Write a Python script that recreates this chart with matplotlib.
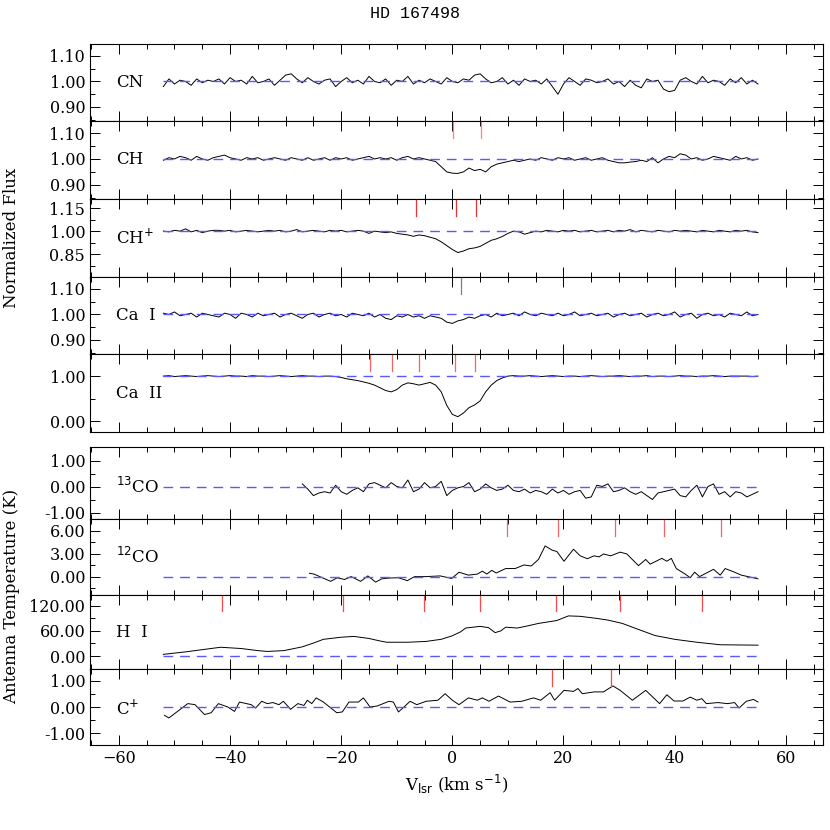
import numpy as np
import matplotlib
matplotlib.use("Agg")
import matplotlib.pyplot as plt
from matplotlib.ticker import MultipleLocator, FixedLocator, FormatStrFormatter

plt.rcParams['font.family'] = ['DejaVu Serif']

# velocity grid for optical spectra (km/s)
v_opt = list(range(-52, 56))

cn_dev = [-20,10,-10,5,0,-15,10,-5,5,0,
          10,-10,15,0,5,-10,20,-5,0,10,
          -15,5,25,30,10,-5,15,0,-10,5,
          10,-20,0,15,-5,5,-10,20,0,-5,
          10,-15,5,0,20,-10,5,-5,10,0,
          -10,15,0,-5,10,5,25,30,10,-5,
          0,15,-10,5,-15,10,0,5,-10,10,
          -20,-50,-10,15,0,-15,10,5,-5,0,
          10,-10,0,-20,5,-15,-25,10,0,5,
          -30,-40,-35,5,15,0,-10,20,-5,5,
          0,-15,10,-5,15,-10,5,-10]
ch_dev = [-5,5,0,10,5,-5,10,0,-5,5,
          10,15,5,0,-5,5,0,5,-5,0,
          5,0,-5,5,0,-5,5,-5,0,5,
          -5,5,0,5,-5,0,5,10,0,5,
          0,5,-5,5,10,0,5,0,-5,-10,
          -30,-50,-55,-56,-50,-35,-45,-40,-50,-30,
          -20,-15,-10,-5,-10,-5,0,-5,5,0,
          -5,5,0,5,-5,0,5,-5,0,5,
          -5,-10,-15,-15,-12,-10,-5,-10,5,-15,
          0,10,5,20,15,0,5,-5,0,10,
          5,0,-5,10,0,5,-5,0]
chp_dev = [0,-5,5,0,15,-5,5,-10,0,5,
           5,0,5,-5,0,5,0,-5,0,5,
           0,5,-5,0,10,-5,0,5,0,-5,
           5,0,5,-5,0,5,0,-15,0,-5,
           -10,-5,-15,-20,-25,-34,-25,-30,-40,-50,
           -70,-95,-120,-140,-130,-115,-110,-100,-80,-60,
           -50,-35,-15,0,-5,-20,-10,0,-5,5,
           0,-5,5,0,5,-5,0,5,-5,0,
           5,-5,5,0,10,-5,5,0,-5,5,
           0,-5,5,0,5,0,-5,5,0,-5,
           5,0,-5,5,0,5,-5,-10]
cai_dev = [5,0,10,-5,0,5,-10,5,0,-5,
           -10,5,0,-15,5,0,-10,5,-5,0,
           5,-10,0,5,-5,-15,0,5,-10,0,
           5,-5,0,-10,5,0,-5,5,-10,0,
           -15,-20,-5,-10,0,-10,-5,-15,-5,-10,
           -15,-30,-35,-25,-20,-10,-15,-5,0,-10,
           5,-5,0,5,-5,10,0,-5,5,0,
           -5,5,-5,0,10,-5,0,5,-5,0,
           5,-10,0,5,-5,0,5,-10,0,5,
           -5,0,10,-10,0,5,-15,0,5,-5,
           0,-10,5,0,-5,10,-5,0]
caii = [1.00,1.01,0.99,1.00,1.01,1.00,0.99,1.00,1.01,1.00,
        0.99,1.00,1.01,1.00,1.00,0.99,1.01,1.00,1.00,0.99,
        1.00,1.01,1.00,0.99,1.00,1.01,1.00,1.00,0.99,1.00,
        1.00,0.99,
        0.97,0.94,0.92,0.90,0.87,0.84,0.80,0.74,0.68,0.65,
        0.70,0.80,0.85,0.83,0.80,0.83,0.86,0.80,0.65,0.35,
        0.15,0.10,0.18,0.30,0.36,0.45,0.65,0.80,0.90,0.96,1.00,
        1.01,1.00,1.00,1.01,1.00,0.99,1.00,1.01,1.00,0.99,
        1.00,1.00,0.99,1.00,1.01,1.00,0.99,1.00,1.00,1.01,
        1.00,0.99,1.00,1.00,1.01,0.99,1.00,1.00,0.99,1.00,
        1.01,1.00,1.00,0.99,1.00,1.00,1.01,1.00,0.99,1.00,
        1.00,1.00,1.00,0.99,1.00]

v_13co = list(range(-27, 56))
t_13co = [0.10,-0.10,-0.35,-0.25,-0.20,-0.25,0.05,-0.20,-0.30,-0.15,
          -0.05,-0.20,0.10,0.15,0.05,-0.05,0.15,0.00,-0.05,0.25,
          -0.20,-0.10,0.15,-0.05,0.00,0.20,-0.35,-0.15,-0.05,0.00,
          0.15,-0.20,-0.10,0.10,-0.05,-0.15,-0.10,0.05,-0.15,-0.20,
          -0.10,-0.25,-0.15,-0.20,-0.30,-0.10,-0.25,-0.15,-0.30,-0.20,
          -0.15,-0.45,-0.40,0.05,0.00,0.10,-0.20,-0.15,-0.05,-0.20,
          -0.30,-0.20,-0.35,-0.50,-0.25,-0.20,-0.15,-0.10,-0.35,-0.40,
          -0.15,0.05,-0.40,0.00,0.10,-0.30,-0.20,-0.40,-0.20,-0.25,
          -0.40,-0.30,-0.20]

v_12co = [-25.7,-24.9,-21.9,-20.7,-19.4,-18.2,-16.5,-15.2,-13.8,-12.7,-11.4,-9.7,-8.1,-6.8,
          -4.7,-2.2,-0.1,1.2,2.9,4.5,5.4,6.2,7.1,7.9,9.6,11.3,12.9,14.2,15.5,16.7,18.0,18.8,
          20.1,21.8,23.0,24.3,25.5,26.4,27.2,28.5,30.2,31.4,33.5,34.8,35.6,37.7,38.6,39.4,
          40.3,41.9,42.8,43.6,44.5,47.0,48.2,49.1,50.8,52.0,55.0]
t_12co = [0.48,0.38,-0.57,-0.10,-0.33,0.05,-0.57,0.14,-0.67,-0.24,-0.14,-0.10,-0.48,0.05,
          0.05,0.14,-0.19,0.62,0.24,0.38,0.76,0.38,0.86,0.52,1.10,1.10,1.57,1.43,2.29,4.05,3.48,3.33,
          2.05,3.62,2.76,2.38,2.76,2.62,3.00,2.76,3.24,3.00,1.48,2.29,1.67,2.43,2.05,2.43,
          1.10,0.38,-0.10,0.62,0.05,1.00,0.24,1.10,0.62,0.24,-0.24]

v_hi = [-52,-48,-44,-41.7,-38,-35,-33.3,-30.3,-27,-25,-23.2,-20,-17.7,-15,-13,-11.8,-8,-4.7,
        -2,-0.1,1.5,2.4,5,6.5,7.7,8.7,9.6,11.7,13.5,15.5,18.8,20.9,23,26,28,30.6,33,36.5,
        40,44,48.2,55]
t_hi = [4,10,17,21,18,13,11,13,22,31,40,45,47,42,36,33,33,35,
        40,48,58,67,71,68,56,60,69,67,72,78,85,96,95,90,86,78,66,49,
        40,33,27,26]

v_cp = [-51.8,-51.0,-47.6,-46.3,-44.6,-43.4,-42.1,-40.4,-39.2,-38.3,-36.2,-35.4,-34.3,-33.3,
        -32.3,-31.2,-30.4,-29.1,-27.8,-26.7,-26.1,-25.3,-24.5,-23.2,-20.8,-19.8,-18.6,-16.9,
        -16.0,-14.8,-13.5,-11.4,-10.6,-9.7,-8.9,-7.6,-6.4,-4.7,-2.6,-1.3,0.0,1.2,2.9,4.5,5.4,
        6.6,8.3,10.4,12.5,14.6,15.9,17.6,18.4,20.1,21.8,22.6,23.4,25.5,27.2,28.9,30.2,32.4,
        34.8,37.3,38.6,39.9,41.5,42.8,44.0,44.9,45.7,47.8,49.5,50.8,51.6,52.9,54.2,55.0]
t_cp = [-0.32,-0.42,0.13,0.09,-0.29,-0.22,0.13,0.00,-0.17,0.19,0.09,-0.04,0.22,0.13,
        0.17,0.09,0.22,-0.09,0.13,0.06,0.26,0.13,0.35,0.19,-0.22,-0.19,0.19,0.19,
        0.35,0.00,0.04,0.22,0.19,-0.19,-0.04,0.22,0.09,0.22,0.26,0.51,0.26,0.09,0.35,0.26,0.35,
        0.22,0.42,0.19,0.22,0.35,0.26,0.55,0.26,0.64,0.60,0.71,0.51,0.58,0.58,0.81,0.64,0.26,
        0.64,0.13,0.47,0.23,0.23,0.38,0.26,0.32,0.13,0.17,0.13,0.17,-0.04,0.22,0.29,0.19]

ticks_ch = [0.1, 5.1]
ticks_chp = [-6.6, 0.6, 4.2]
ticks_cai = [1.5]
ticks_caii = [-14.8, -10.8, -6.0, 0.5, 4.0]
ticks_12co = [9.9, 19.0, 29.2, 38.1, 48.4]
ticks_hi = [-41.4, -19.7, -5.1, 5.0, 18.7, 30.2, 44.9]
ticks_cp = [18.0, 28.5]

fig = plt.figure(figsize=(8.3, 8.3), dpi=100)
W = 830.0
def mkax(top, bot):
    return fig.add_axes([90/W, 1-bot/W, 733/W, (bot-top)/W])

blue = (0.35, 0.35, 1.0)
panels = [
    ("CN", 44, 121, v_opt, [1+d/1000 for d in cn_dev], (0.845, 1.147), [0.9, 1.0, 1.1], [0.85, 0.95, 1.05, 1.15], 1.0, [], 'r', 0.5),
    ("CH", 121, 199, v_opt, [1+d/1000 for d in ch_dev], (0.845, 1.147), [0.9, 1.0, 1.1], [0.85, 0.95, 1.05, 1.15], 1.0, ticks_ch, (1,0.5,0.5), 0.5),
    ("CH$^{+}$", 199, 277, v_opt, [1+d/1000 for d in chp_dev], (0.70, 1.21), [0.85, 1.0, 1.15], [0.775, 0.925, 1.075], 1.0, ticks_chp, (0.9,0.2,0.2), 0.5),
    ("Ca  I", 277, 354, v_opt, [1+d/1000 for d in cai_dev], (0.845, 1.147), [0.9, 1.0, 1.1], [0.85, 0.95, 1.05, 1.15], 1.0, ticks_cai, (0.5,0.5,0.5), 0.5),
    ("Ca  II", 354, 432, v_opt, caii, (-0.24, 1.49), [0.0, 1.0], [0.5], 1.0, ticks_caii, (0.95,0.4,0.4), 0.49),
    ("$^{13}$CO", 447, 519, v_13co, t_13co, (-1.25, 1.52), [-1.0, 0.0, 1.0], [-0.5, 0.5], 0.0, [], 'r', 0.45),
    ("$^{12}$CO", 519, 595, v_12co, t_12co, (-2.35, 7.56), [0.0, 3.0, 6.0], [-1.5, 1.5, 4.5, 7.5], 0.0, ticks_12co, (0.95,0.4,0.4), 0.5),
    ("H  I", 595, 669, v_hi, t_hi, (-31, 146), [0, 60, 120], [-30, 30, 90], 0.0, ticks_hi, (0.95,0.3,0.3), 0.5),
    ("C$^{+}$", 669, 745, v_cp, t_cp, (-1.46, 1.46), [-1.0, 0.0, 1.0], [-0.5, 0.5], 0.0, ticks_cp, (0.95,0.3,0.3), 0.47),
]
axes = []
for (name, top, bot, x, y, ylim, maj, mnr, base, tks, tc, ly) in panels:
    ax = mkax(top, bot)
    ax.plot(x, y, color='black', lw=0.7)
    ax.plot([-52, 55], [base, base], color=blue, lw=1.0, dashes=(7, 5))
    for t in tks:
        ax.axvline(t, ymin=0.78, ymax=1.0, color=tc, lw=0.9)
    ax.set_xlim(-65.2, 66.7)
    ax.set_ylim(*ylim)
    ax.xaxis.set_major_locator(MultipleLocator(20))
    ax.xaxis.set_minor_locator(MultipleLocator(5))
    ax.yaxis.set_major_locator(FixedLocator(maj))
    ax.yaxis.set_minor_locator(FixedLocator(mnr))
    ax.tick_params(which='both', direction='in', top=True, right=True, labelsize=11.5)
    ax.tick_params(which='major', length=7, width=0.7)
    ax.tick_params(which='minor', length=3.5, width=0.7)
    ax.yaxis.set_major_formatter(FormatStrFormatter('%.2f'))
    ax.tick_params(labelbottom=False)
    ax.text(0.035, ly, name, transform=ax.transAxes, fontsize=12, va='center', ha='left')
    for s in ax.spines.values():
        s.set_linewidth(0.8)
    axes.append(ax)

axes[-1].tick_params(labelbottom=True)
axes[-1].set_xlabel("V$_{\\rm lsr}$ (km s$^{-1}$)", fontsize=12)
fig.text(0.5, 1-14/W, "HD 167498", ha='center', va='center', fontsize=12, family='Liberation Mono')
fig.text(12/W, 1-238/W, "Normalized Flux", rotation=90, ha='center', va='center', fontsize=12)
fig.text(12/W, 1-596/W, "Antenna Temperature (K)", rotation=90, ha='center', va='center', fontsize=12)

fig.savefig("out.png", dpi=100)
